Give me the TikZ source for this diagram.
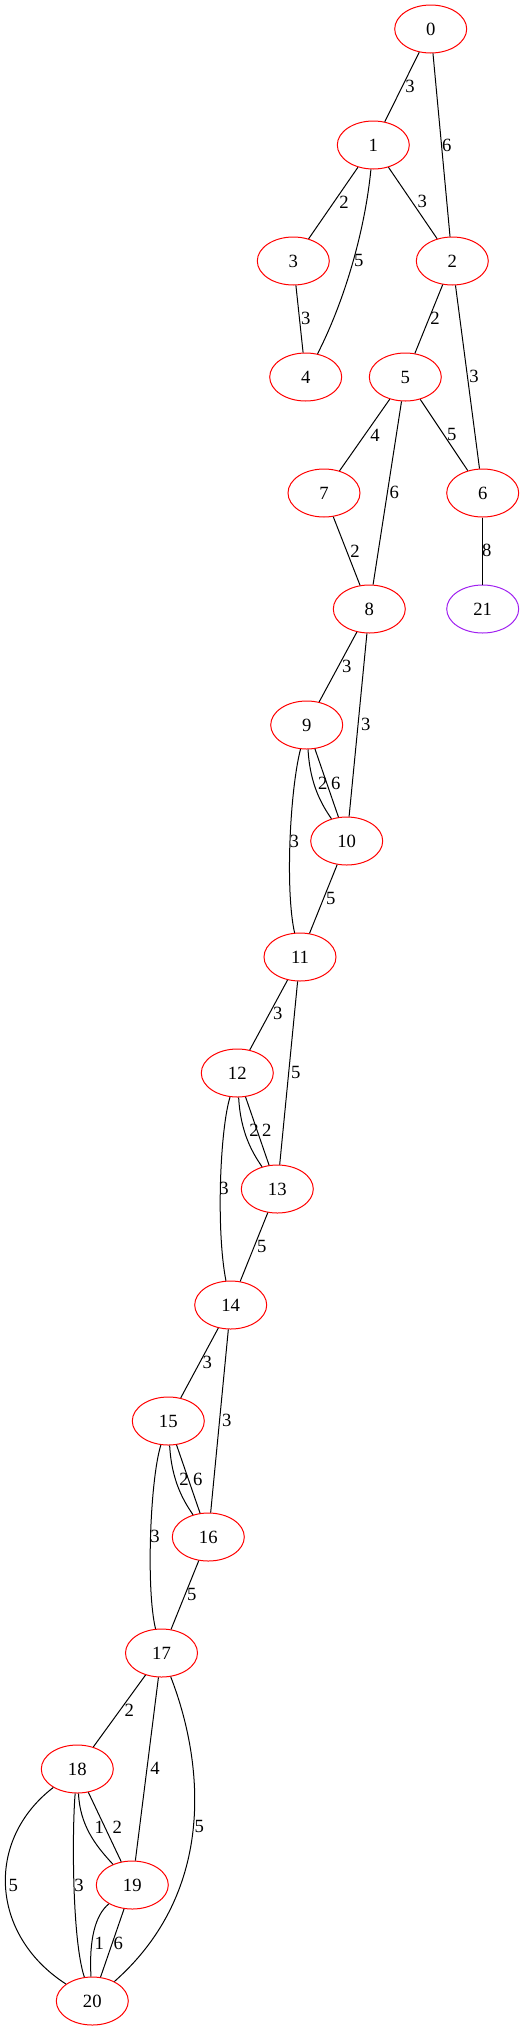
\documentclass[tikz,border=0pt]{standalone}
\usepackage{fontspec}
\setmainfont{Liberation Serif}
\usetikzlibrary{shapes.geometric}
\definecolor{gvpurple}{HTML}{A020F0}
\begin{document}
\begin{tikzpicture}[x=0.75pt,y=-0.75pt,
  vtx/.style={ellipse,draw=red,line width=0.75pt,minimum width=54pt,minimum height=36pt,inner sep=0pt,font=\fontsize{14}{16}\selectfont},
  lbl/.style={inner sep=0pt,font=\fontsize{14}{16}\selectfont},
  edge/.style={draw=black,line width=0.75pt}]
\useasboundingbox (0,0) rectangle (524,2031);
% nodes
\node[vtx] (n0) at (430.7,29) {0};
\node[vtx] (n1) at (373.3,145) {1};
\node[vtx] (n2) at (452.3,261) {2};
\node[vtx] (n3) at (293.3,261) {3};
\node[vtx] (n4) at (305.7,377) {4};
\node[vtx] (n5) at (405.3,377) {5};
\node[vtx] (n6) at (482.7,493) {6};
\node[vtx] (n7) at (324,493) {7};
\node[vtx] (n8) at (369.3,609) {8};
\node[vtx,draw=gvpurple] (n21) at (482.7,609) {21};
\node[vtx] (n9) at (306.7,725) {9};
\node[vtx] (n10) at (346.7,841) {10};
\node[vtx] (n11) at (300,957) {11};
\node[vtx] (n12) at (237.3,1073) {12};
\node[vtx] (n13) at (277.3,1189) {13};
\node[vtx] (n14) at (230.7,1305) {14};
\node[vtx] (n15) at (168.3,1421) {15};
\node[vtx] (n16) at (208.3,1537) {16};
\node[vtx] (n17) at (161.5,1653) {17};
\node[vtx] (n18) at (77.3,1769) {18};
\node[vtx] (n19) at (132.3,1885) {19};
\node[vtx] (n20) at (92.3,2001) {20};
% edges
\draw[edge] (n0) -- (n1);
\node[lbl] at (410,86.7) {3};
\draw[edge] (n0) -- (n2);
\node[lbl] at (446.7,145) {6};
\draw[edge] (n1) -- (n3);
\node[lbl] at (344,202.7) {2};
\draw[edge] (n1) -- (n2);
\node[lbl] at (422.3,201.7) {3};
\draw[edge] (n1) .. controls (365,230) and (345,300) .. (n4);
\node[lbl] at (358.7,260) {5};
\draw[edge] (n3) -- (n4);
\node[lbl] at (305.7,318.3) {3};
\draw[edge] (n2) -- (n5);
\node[lbl] at (435,318.3) {2};
\draw[edge] (n2) -- (n6);
\node[lbl] at (474,376.7) {3};
\draw[edge] (n5) -- (n7);
\node[lbl] at (375,435) {4};
\draw[edge] (n5) -- (n8);
\node[lbl] at (394.3,492.7) {6};
\draw[edge] (n5) -- (n6);
\node[lbl] at (451.7,434.3) {5};
\draw[edge] (n7) -- (n8);
\node[lbl] at (355,551) {2};
\draw[edge] (n6) -- (n21);
\node[lbl] at (486.7,550.7) {8};
\draw[edge] (n8) -- (n9);
\node[lbl] at (346.7,666) {3};
\draw[edge] (n8) -- (n10);
\node[lbl] at (365.7,724.3) {3};
\draw[edge] (n9) .. controls (310,785) and (322,805) .. (n10);
\node[lbl] at (322.7,783.3) {2};
\draw[edge] (n9) -- (n10);
\node[lbl] at (335.7,783.3) {6};
\draw[edge] (n9) .. controls (290,790) and (285,890) .. (n11);
\node[lbl] at (294.3,841) {3};
\draw[edge] (n10) -- (n11);
\node[lbl] at (330.7,898.3) {5};
\draw[edge] (n11) -- (n12);
\node[lbl] at (277.7,1013.3) {3};
\draw[edge] (n11) -- (n13);
\node[lbl] at (295.7,1072.3) {5};
\draw[edge] (n12) .. controls (240.6,1133) and (252.6,1153) .. (n13);
\node[lbl] at (254,1130) {2};
\draw[edge] (n12) -- (n13);
\node[lbl] at (266.7,1130) {2};
\draw[edge] (n12) .. controls (220,1130) and (216,1230) .. (n14);
\node[lbl] at (224,1188.3) {3};
\draw[edge] (n13) -- (n14);
\node[lbl] at (261.7,1246) {5};
\draw[edge] (n14) -- (n15);
\node[lbl] at (207.3,1362.3) {3};
\draw[edge] (n14) -- (n16);
\node[lbl] at (226.7,1420.7) {3};
\draw[edge] (n15) .. controls (171.6,1481) and (183.6,1501) .. (n16);
\node[lbl] at (184,1479) {2};
\draw[edge] (n15) -- (n16);
\node[lbl] at (197.7,1479) {6};
\draw[edge] (n15) .. controls (150,1480) and (146,1590) .. (n17);
\node[lbl] at (155,1536) {3};
\draw[edge] (n16) -- (n17);
\node[lbl] at (191.7,1594) {5};
\draw[edge] (n17) -- (n18);
\node[lbl] at (129.3,1710.7) {2};
\draw[edge] (n17) -- (n19);
\node[lbl] at (155,1768.3) {4};
\draw[edge] (n17) .. controls (203,1760) and (218,1890) .. (n20);
\node[lbl] at (199.3,1826.7) {5};
\draw[edge] (n18) .. controls (80,1825) and (95,1845) .. (n19);
\node[lbl] at (99.3,1827.3) {1};
\draw[edge] (n18) -- (n19);
\node[lbl] at (117.3,1827.3) {2};
\draw[edge] (n18) .. controls (-15,1840) and (-10,1935) .. (n20);
\node[lbl] at (13.3,1885) {5};
\draw[edge] (n18) .. controls (72,1830) and (72,1940) .. (n20);
\node[lbl] at (79,1885) {3};
\draw[edge] (n19) .. controls (95,1915) and (89,1940) .. (n20);
\node[lbl] at (99.3,1943.3) {1};
\draw[edge] (n19) -- (n20);
\node[lbl] at (118.3,1943.3) {6};
\end{tikzpicture}
\end{document}
